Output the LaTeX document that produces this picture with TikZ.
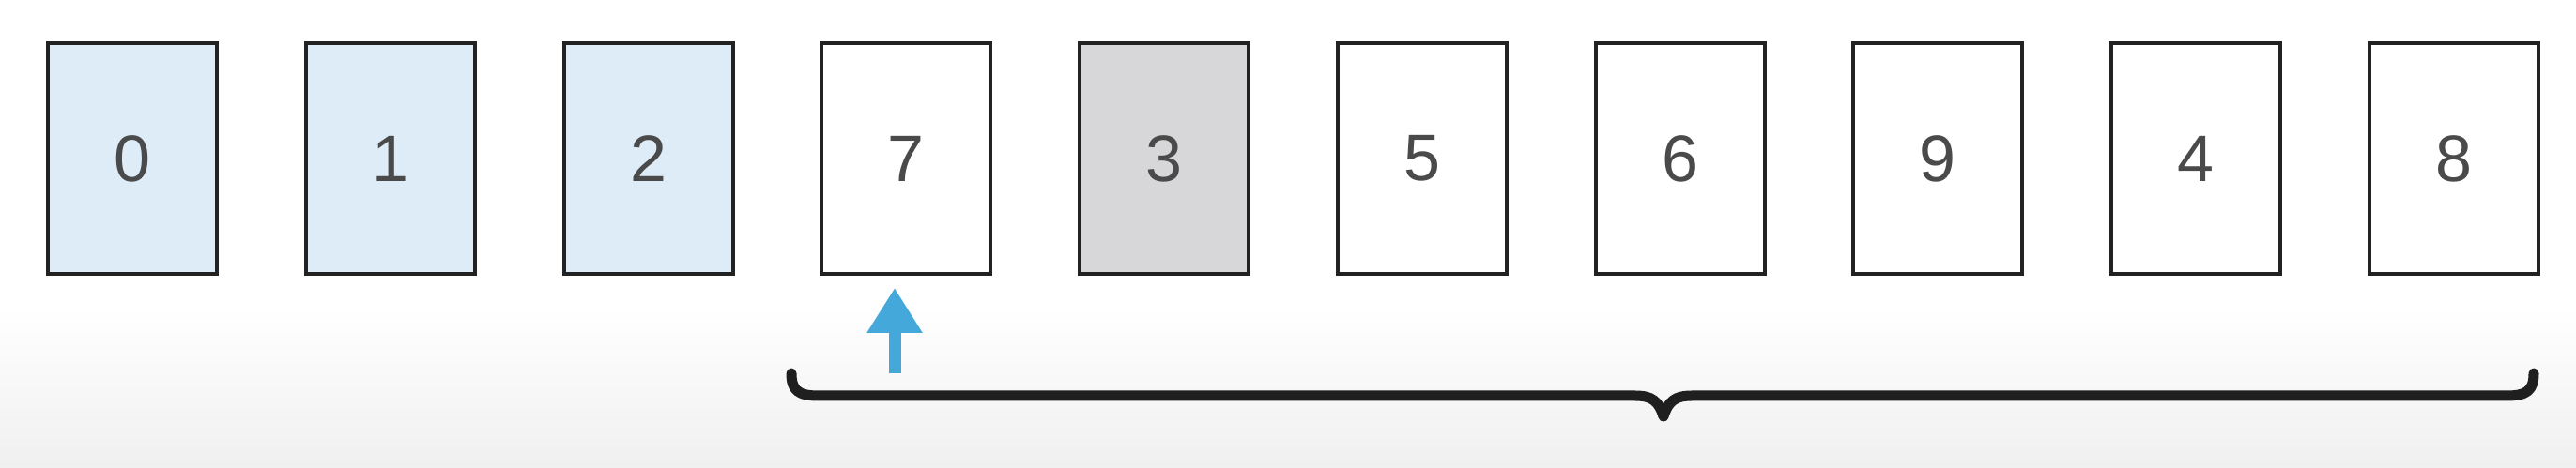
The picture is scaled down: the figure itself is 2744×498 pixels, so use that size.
\documentclass[tikz,border=0pt]{standalone}
\usepackage{fontspec}
\setmainfont{Liberation Sans}
\usetikzlibrary{arrows.meta}
\definecolor{cardblue}{HTML}{DDECF7}
\definecolor{cardgray}{HTML}{D7D7D9}
\definecolor{arrowblue}{HTML}{45A8DA}
\definecolor{digit}{HTML}{4A4A4A}
\definecolor{edge}{HTML}{222222}
\begin{document}
\begin{tikzpicture}[x=1pt,y=1pt,
  card/.style={draw=edge,line width=4pt,rectangle,minimum width=180pt,minimum height=246pt,inner sep=0pt,
    font=\fontsize{70}{70}\selectfont,text=digit,fill=white},
  done/.style={card,fill=cardblue},
  pivot/.style={card,fill=cardgray},
  pointer/.style={draw=arrowblue,line width=13pt,-{Triangle[width=56pt,length=48pt]}},
  brace/.style={draw=black!88,line width=11pt,line cap=round,line join=round}]
\useasboundingbox (0,0) rectangle (2744,498);
\fill[white] (0,0) rectangle (2744,498);
\shade[top color=white,bottom color=black!6] (0,0) rectangle (2744,170);
\node[done]  (c0) at (141.0,329) {0};
\node[done]  (c1) at (415.75,329) {1};
\node[done]  (c2) at (690.5,329) {2};
\node[card]  (c3) at (965.25,329) {7};
\node[pivot] (c4) at (1240.0,329) {3};
\node[card]  (c5) at (1514.75,329) {5};
\node[card]  (c6) at (1789.5,329) {6};
\node[card]  (c7) at (2064.25,329) {9};
\node[card]  (c8) at (2339.0,329) {4};
\node[card]  (c9) at (2613.75,329) {8};
\coordinate (ptail) at (953,100);
\coordinate (ptip) at (953,191);
\draw[pointer] (ptail) -- (ptip);
\draw[brace] (843,100) .. controls (843,82) and (850,76) .. (872,76) -- (1742,76)
  .. controls (1760,76) and (1767,70) .. (1772,54)
  .. controls (1777,70) and (1784,76) .. (1802,76) -- (2670,76)
  .. controls (2692,76) and (2699,82) .. (2699,100);
\end{tikzpicture}
\end{document}
